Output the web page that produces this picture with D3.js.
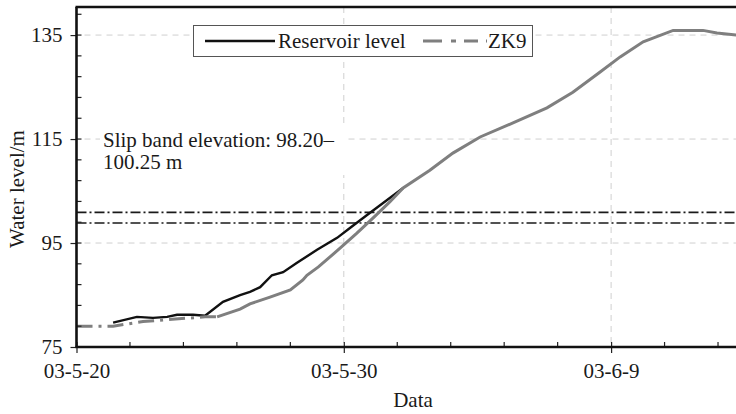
<!DOCTYPE html>
<html>
<head>
<meta charset="utf-8">
<script src="https://cdn.jsdelivr.net/npm/d3@7"></script>
<style>
  body { margin: 0; background: #fff; }
  svg { display: block; font-family: "Liberation Serif", "Times New Roman", serif; }
</style>
</head>
<body>
<div id="chart"></div>
<script>
// days counted from 03-5-20
var xTickDays = [0, 10, 20];
var xTickLabels = ["03-5-20", "03-5-30", "03-6-9"];
var yTicks = [75, 95, 115, 135];

var reservoirDay   = [1.37, 2.26, 2.86, 3.39, 3.76, 4.36, 4.81, 5.48, 6.12, 6.49, 6.87, 7.31, 7.73, 8.25, 9.0, 9.75, 10.23, 10.87, 11.47, 12.22];
var reservoirLevel = [79.7, 80.8, 80.6, 80.8, 81.2, 81.2, 81.0, 83.7, 85.0, 85.6, 86.5, 88.8, 89.4, 91.2, 93.7, 96.0, 97.9, 100.4, 102.7, 105.6];

var zk9Day   = [0.0, 1.37, 2.49, 4.81, 5.26, 6.12, 6.49, 7.24, 8.0, 8.47, 8.62, 9.05, 9.86, 10.49, 11.09, 11.72, 12.22, 13.22, 14.08, 15.1, 16.33, 17.6, 18.57, 19.59, 20.34, 21.2, 22.32, 23.44, 23.96, 24.7];
var zk9Level = [79.0, 79.0, 79.9, 80.8, 80.8, 82.3, 83.3, 84.6, 86.0, 87.9, 88.8, 90.4, 94.0, 96.9, 99.8, 102.9, 105.6, 109.0, 112.3, 115.4, 118.1, 121.0, 124.0, 127.9, 130.8, 133.7, 135.9, 135.9, 135.4, 135.0];
var zk9DashedUntil = 4; // index where the dash-dot part ends

var slipBand = [98.85, 100.9];

var width = 736, height = 414;
var margin = {top: 7, left: 76.5, bottom: 67};
var fs = 21;

var svg = d3.select("#chart")
    .append("svg")
    .attr("width", width)
    .attr("height", height);

var x = d3.scaleLinear()
    .domain([0, 25])
    .range([margin.left, margin.left + 25 * 26.73]);

var y = d3.scaleLinear()
    .domain([75, 140.4])
    .range([height - margin.bottom, margin.top]);

var x0 = x(0), yb = y(75);

// grid
svg.append("g").selectAll("line")
    .data(yTicks.slice(1))
    .enter().append("line")
    .attr("x1", x0 + 8).attr("x2", width)
    .attr("y1", d => y(d)).attr("y2", d => y(d))
    .attr("stroke", "#cfcfcf").attr("stroke-width", 1).attr("stroke-dasharray", "6,5");

svg.append("g").selectAll("line")
    .data(xTickDays.slice(1))
    .enter().append("line")
    .attr("x1", d => x(d)).attr("x2", d => x(d))
    .attr("y1", margin.top).attr("y2", yb)
    .attr("stroke", "#cfcfcf").attr("stroke-width", 1).attr("stroke-dasharray", "6,5");

// slip band lines
svg.append("g").selectAll("line")
    .data(slipBand)
    .enter().append("line")
    .attr("x1", x0).attr("x2", width)
    .attr("y1", d => y(d)).attr("y2", d => y(d))
    .attr("stroke", "#1a1a1a").attr("stroke-width", 1.6).attr("stroke-dasharray", "10,3,2,3");

// annotation
svg.append("rect")
    .attr("x", 100).attr("y", 127).attr("width", 246).attr("height", 48)
    .attr("fill", "#fff");
var note = svg.append("text")
    .attr("x", 103).attr("y", 147)
    .attr("font-size", fs).attr("fill", "#1a1a1a");
note.append("tspan").text("Slip band elevation: 98.20\u2013");
note.append("tspan").attr("x", 103).attr("dy", 22).text("100.25 m");

// series
var line = d3.line()
    .x(d => x(d[0]))
    .y(d => y(d[1]));

var resPts = reservoirDay.map((d, i) => [d, reservoirLevel[i]]);
var zkPts = zk9Day.map((d, i) => [d, zk9Level[i]]);

svg.append("path")
    .datum(resPts)
    .attr("d", line)
    .attr("fill", "none")
    .attr("stroke", "#111")
    .attr("stroke-width", 2.4);

svg.append("path")
    .datum(zkPts.slice(0, zk9DashedUntil + 1))
    .attr("d", line)
    .attr("fill", "none")
    .attr("stroke", "#7f7f7f")
    .attr("stroke-width", 3)
    .attr("stroke-dasharray", "16,6,3,6");

svg.append("path")
    .datum(zkPts.slice(zk9DashedUntil))
    .attr("d", line)
    .attr("fill", "none")
    .attr("stroke", "#7f7f7f")
    .attr("stroke-width", 3);

// axes
var yAxis = d3.axisLeft(y)
    .tickValues(yTicks)
    .tickSize(6)
    .tickPadding(8);
var gy = svg.append("g")
    .attr("transform", "translate(" + x0 + ",0)")
    .call(yAxis);
gy.select(".domain").remove();
gy.selectAll("text").attr("font-size", fs).attr("font-family", "Liberation Serif").attr("fill", "#1a1a1a");
gy.selectAll("line").attr("stroke", "#222").attr("stroke-width", 1.2);

var yMinor = d3.range(79, 140, 4);
svg.append("g").selectAll("line")
    .data(yMinor)
    .enter().append("line")
    .attr("x1", x0).attr("x2", x0 + 5)
    .attr("y1", d => y(d)).attr("y2", d => y(d))
    .attr("stroke", "#222").attr("stroke-width", 1.2);

var xAxis = d3.axisBottom(x)
    .tickValues(xTickDays)
    .tickFormat((d, i) => xTickLabels[i])
    .tickSizeInner(6)
    .tickSizeOuter(0)
    .tickPadding(10);
var gx = svg.append("g")
    .attr("transform", "translate(0," + yb + ")")
    .call(xAxis);
gx.select(".domain").remove();
gx.selectAll("text").attr("font-size", fs).attr("font-family", "Liberation Serif").attr("fill", "#1a1a1a");
gx.selectAll("line").attr("stroke", "#222").attr("stroke-width", 1.2).attr("y1", -5);

var xMinor = d3.range(2, 26, 2).filter(d => xTickDays.indexOf(d) < 0);
svg.append("g").selectAll("line")
    .data(xMinor)
    .enter().append("line")
    .attr("x1", d => x(d)).attr("x2", d => x(d))
    .attr("y1", yb).attr("y2", yb - 5)
    .attr("stroke", "#222").attr("stroke-width", 1.2);

// frame lines
svg.append("line")
    .attr("x1", x0).attr("x2", x0).attr("y1", margin.top).attr("y2", yb)
    .attr("stroke", "#111").attr("stroke-width", 2.6);
svg.append("line")
    .attr("x1", x0 - 1).attr("x2", width).attr("y1", yb).attr("y2", yb)
    .attr("stroke", "#111").attr("stroke-width", 2.6);
svg.append("line")
    .attr("x1", x0 - 1).attr("x2", width).attr("y1", margin.top).attr("y2", margin.top)
    .attr("stroke", "#111").attr("stroke-width", 2.6);

// axis titles
svg.append("text")
    .attr("transform", "translate(24," + 189 + ") rotate(-90)")
    .attr("text-anchor", "middle")
    .attr("font-size", fs).attr("fill", "#1a1a1a")
    .text("Water level/m");
svg.append("text")
    .attr("x", 413).attr("y", 407)
    .attr("text-anchor", "middle")
    .attr("font-size", fs).attr("fill", "#1a1a1a")
    .text("Data");

// legend
var lg = svg.append("g");
lg.append("rect")
    .attr("x", 193.5).attr("y", 25.5).attr("width", 339).attr("height", 31)
    .attr("fill", "#fff").attr("stroke", "#555").attr("stroke-width", 1);
lg.append("line")
    .attr("x1", 205).attr("x2", 275).attr("y1", 41).attr("y2", 41)
    .attr("stroke", "#111").attr("stroke-width", 2.4);
lg.append("text")
    .attr("x", 278).attr("y", 48)
    .attr("font-size", fs).attr("fill", "#1a1a1a")
    .text("Reservoir level");
lg.append("line")
    .attr("x1", 423).attr("x2", 487).attr("y1", 41).attr("y2", 41)
    .attr("stroke", "#7f7f7f").attr("stroke-width", 3).attr("stroke-dasharray", "19,9,5,8,14,8,3,2");
lg.append("text")
    .attr("x", 488).attr("y", 48)
    .attr("font-size", fs).attr("fill", "#1a1a1a")
    .text("ZK9");
</script>
</body>
</html>
